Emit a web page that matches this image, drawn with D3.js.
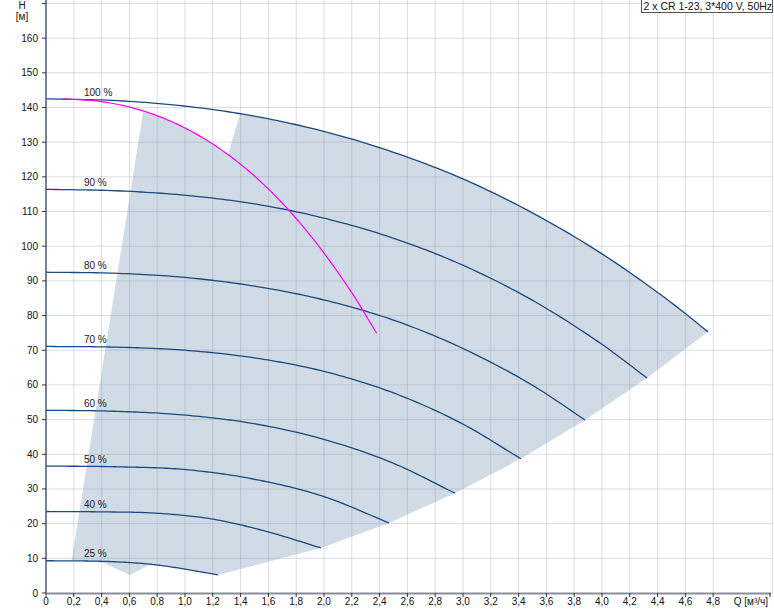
<!DOCTYPE html>
<html><head><meta charset="utf-8">
<script src="https://cdn.jsdelivr.net/npm/d3@7/dist/d3.min.js"></script>
<style>body{margin:0;background:#fff}svg{display:block;font-family:"Liberation Sans",Arial,sans-serif}</style>
</head><body><svg id="c" width="774" height="611"></svg>
<script>
// ---- data ----
const speedLabels = ["100 %","90 %","80 %","70 %","60 %","50 %","40 %","25 %"];
const q100=[0,0.5,1.0,1.5,2.0,2.5,3.0,3.5,4.0,4.5,4.763], h100=[142.5,142.0,140.4,137.5,133.1,127.1,119.4,109.6,97.8,83.7,75.3];
const q90=[0,0.5,1,1.5,2,2.5,3,3.5,4,4.324], h90=[116.4,116.0,114.7,112.2,108.1,102.3,94.5,84.4,71.7,62.0];
const q80=[0,0.5,1,1.5,2,2.5,3,3.5,3.878], h80=[92.5,92.2,91.0,88.5,84.5,78.7,70.5,59.9,49.9];
const q70=[0,0.5,1,1.5,2,2.5,3,3.417], h70=[71.1,70.9,70.0,67.8,63.9,57.7,48.7,38.7];
const q60=[0,0.5,1,1.5,2,2.5,2.942], h60=[52.7,52.4,51.3,48.8,44.3,37.4,28.8];
const q50=[0,0.5,1,1.5,2,2.468], h50=[36.6,36.4,35.6,32.8,27.8,20.2];
const q40=[0,0.4,0.8,1.2,1.6,1.978], h40=[23.5,23.4,23.0,21.3,17.6,13.0];
const q25=[0,0.25,0.5,0.75,1.0,1.237], h25=[9.3,9.25,9.0,8.3,6.9,5.2];
const magentaQ=[0.113,0.4,0.7,1.0,1.3,1.6,1.9,2.2,2.379], magentaH=[142.5,141.7,139.0,134.1,126.7,116.5,103.2,86.6,74.9];
const notchQ=[0.185,0.41,0.604,0.748], notchH=[9.5,8.7,5.2,8.2];
const shadeCornerQ=0.70, shadeStepFromQ=1.309, shadeStepToQ=1.396;
const labelQ=0.273;
const xTicks=d3.range(0,25).map(i=>i*0.2);
const yTicks=d3.range(0,18).map(i=>i*10);
const yLabelMax=160;
const legendText="2 x CR 1-23, 3*400 V, 50Hz";
const xUnit="Q [м³/ч]", yName="H", yUnit="[м]";

// ---- helpers ----
function interp(xs, ys){
  const n=xs.length, d=[], m=new Array(n);
  for(let i=0;i<n-1;i++) d.push((ys[i+1]-ys[i])/(xs[i+1]-xs[i]));
  m[0]=d[0]; m[n-1]=d[n-2];
  for(let i=1;i<n-1;i++) m[i]=(d[i-1]*d[i]<=0)?0:(d[i-1]+d[i])/2;
  for(let i=0;i<n-1;i++){
    if(d[i]===0){m[i]=m[i+1]=0;continue;}
    const a=m[i]/d[i], b=m[i+1]/d[i], s=a*a+b*b;
    if(s>9){const t=3/Math.sqrt(s); m[i]=t*a*d[i]; m[i+1]=t*b*d[i];}
  }
  return x=>{
    let i=0; while(i<n-2 && x>xs[i+1]) i++;
    const h=xs[i+1]-xs[i], t=(x-xs[i])/h, t2=t*t, t3=t2*t;
    return (2*t3-3*t2+1)*ys[i]+(t3-2*t2+t)*h*m[i]+(-2*t3+3*t2)*ys[i+1]+(t3-t2)*h*m[i+1];
  };
}
function sample(f,a,b,n){ n=n||80; return d3.range(n+1).map(i=>{const q=a+(b-a)*i/n; return [q,f(q)];}); }

const curves=[[q100,h100],[q90,h90],[q80,h80],[q70,h70],[q60,h60],[q50,h50],[q40,h40],[q25,h25]]
  .map((c,i)=>({label:speedLabels[i], q:c[0], h:c[1], f:interp(c[0],c[1])}));
const magF=interp(magentaQ,magentaH);

// ---- scales ----
const W=774,H=611;
const x=d3.scaleLinear().domain([0,5.216]).range([46,771]);
const y=d3.scaleLinear().domain([0,171]).range([593,0]);
const svg=d3.select("#c");
svg.append("rect").attr("width",W).attr("height",H).attr("fill","#fff");

// ---- shaded operating area ----
const c25=curves[7], c100=curves[0];
let poly=[];
notchQ.forEach((q,i)=>poly.push([q,notchH[i]]));
poly=poly.concat(sample(c25.f,notchQ[notchQ.length-1],c25.q[c25.q.length-1],30));
[6,5,4,3,2,1].forEach(i=>{const c=curves[i]; poly.push([c.q[c.q.length-1],c.h[c.h.length-1]]);});
poly=poly.concat(sample(c100.f,c100.q[c100.q.length-1],shadeStepToQ,100));
poly=poly.concat(sample(magF,shadeStepFromQ,shadeCornerQ,40));
const line=d3.line().x(d=>x(d[0])).y(d=>y(d[1]));
svg.append("path").attr("d",line(poly)+"Z").attr("fill","#d1dbe6");

// ---- grid ----
const g=svg.append("g").attr("stroke","#8c96a3").attr("stroke-opacity",0.32).attr("stroke-width",1);
xTicks.slice(1).forEach(t=>g.append("line").attr("x1",x(t)).attr("x2",x(t)).attr("y1",0).attr("y2",y(0)));
g.append("line").attr("x1",772.5).attr("x2",772.5).attr("y1",0).attr("y2",y(0));
yTicks.slice(1).forEach(t=>g.append("line").attr("x1",x(0)).attr("x2",772).attr("y1",y(t)).attr("y2",y(t)));

// ---- pump curves ----
curves.forEach(c=>{
  const pts=sample(c.f,0,c.q[c.q.length-1],120);
  svg.append("path").attr("d",line(pts)).attr("fill","none").attr("stroke","#1c4a80").attr("stroke-width",1.3);
  svg.append("text").attr("x",x(labelQ)).attr("y",y(c.f(labelQ))-3.5).attr("font-size",10).attr("fill","#1a1a1a").text(c.label);
});
svg.append("path").attr("d",line(sample(magF,magentaQ[0],magentaQ[magentaQ.length-1],120)))
  .attr("fill","none").attr("stroke","#ff00ff").attr("stroke-width",1.2);

// ---- axes ----
const ax=svg.append("g");
ax.append("line").attr("x1",x(0)).attr("x2",771).attr("y1",y(0)+0.5).attr("y2",y(0)+0.5).attr("stroke","#878e98").attr("stroke-width",2);
ax.append("line").attr("x1",x(0)).attr("x2",x(0)).attr("y1",0).attr("y2",y(0)).attr("stroke","#4d5872").attr("stroke-width",1.5);
xTicks.forEach(t=>{
  ax.append("line").attr("x1",x(t)).attr("x2",x(t)).attr("y1",y(0)).attr("y2",y(0)+4).attr("stroke","#333").attr("stroke-width",1);
  ax.append("text").attr("x",x(t)).attr("y",605).attr("text-anchor","middle").attr("font-size",10).attr("fill","#111")
    .text(t===0?"0":t.toFixed(1).replace(".",","));
});
ax.append("line").attr("x1",770).attr("x2",770).attr("y1",y(0)).attr("y2",y(0)+4).attr("stroke","#333");
ax.append("text").attr("x",768).attr("y",605).attr("text-anchor","end").attr("font-size",10).attr("fill","#111").text(xUnit);
yTicks.forEach(t=>{
  ax.append("line").attr("x1",x(0)-4).attr("x2",x(0)).attr("y1",y(t)).attr("y2",y(t)).attr("stroke","#333");
  if(t<=yLabelMax) ax.append("text").attr("x",38).attr("y",y(t)+3.5).attr("text-anchor","end").attr("font-size",10).attr("fill","#111").text(t);
});
ax.append("text").attr("x",22).attr("y",9).attr("text-anchor","middle").attr("font-size",10).attr("fill","#111").text(yName);
ax.append("text").attr("x",22).attr("y",20).attr("text-anchor","middle").attr("font-size",10).attr("fill","#111").text(yUnit);

// ---- legend ----
svg.append("rect").attr("x",641.5).attr("y",-1).attr("width",131).attr("height",13.5).attr("fill","#fff").attr("stroke","#555").attr("stroke-width",1);
svg.append("text").attr("x",643.5).attr("y",10).attr("font-size",10.5).attr("fill","#111").text(legendText);
</script></body></html>
